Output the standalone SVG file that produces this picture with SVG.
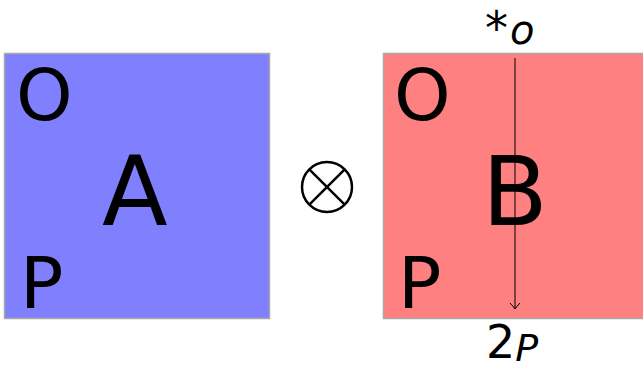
<svg xmlns="http://www.w3.org/2000/svg" width="643" height="369" viewBox="0 0 643 369">
<style>
.box{stroke:#a8a8a8;stroke-width:1.5}
.t{font-family:"DejaVu Sans","Liberation Sans",sans-serif;fill:#000}
.lbl{font-size:72px}
.big{font-size:96px}
</style>
<defs>
<marker id="ah" markerWidth="12" markerHeight="12" refX="10" refY="6" orient="auto" markerUnits="userSpaceOnUse">
<path d="M4,1 Q7,4 10,6 Q7,8 4,11" fill="none" stroke="#000" stroke-width="1"/>
</marker>
</defs>
<g id="nodeA">
<rect class="box" x="4.5" y="53.5" width="265" height="265" fill="#8080ff"/>
<text class="t lbl" x="16" y="120">O</text>
<text class="t lbl" x="20" y="308">P</text>
<text class="t big" x="102" y="225">A</text>
</g>
<g id="otimes">
<circle cx="327" cy="187" r="25" fill="none" stroke="#000" stroke-width="2.5"/>
<line x1="309.3" y1="169.3" x2="344.7" y2="204.7" stroke="#000" stroke-width="2.5"/>
<line x1="344.7" y1="169.3" x2="309.3" y2="204.7" stroke="#000" stroke-width="2.5"/>
</g>
<g id="nodeB">
<rect class="box" x="383.5" y="53.5" width="265" height="265" fill="#ff8080"/>
<text class="t lbl" x="394" y="120">O</text>
<text class="t lbl" x="398" y="308">P</text>
<text class="t big" x="482" y="225">B</text>
</g>
<g id="connectors">
<line x1="515" y1="58" x2="515" y2="309" stroke="#000" stroke-width="1" marker-end="url(#ah)"/>
</g>
<g id="labels">
<text class="t" x="485" y="44" font-size="46">*<tspan font-style="italic" font-size="40" dx="2">o</tspan></text>
<text class="t" x="486" y="358" font-size="46">2<tspan font-style="italic" font-size="38" dy="3">P</tspan></text>
</g>
</svg>
